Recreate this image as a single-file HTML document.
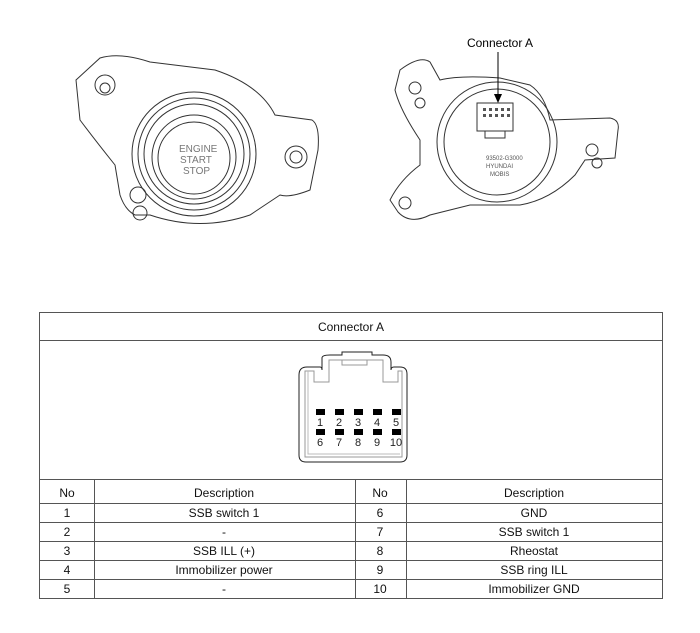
<!DOCTYPE html>
<html><head><style>
body{margin:0;background:#fff;width:700px;height:633px;overflow:hidden;font-family:"Liberation Sans",sans-serif;}
svg{position:absolute;left:0;top:0}
</style></head><body>
<svg width="700" height="633" viewBox="0 0 700 633" font-family="Liberation Sans, sans-serif">
<g fill="none" stroke="#333" stroke-width="1">
<!-- left switch -->
<path d="M76 80 L100 58 Q120 52 150 62 L215 70 Q260 85 275 115 L312 120 Q320 125 318 150 L310 190 Q290 198 280 195 L250 215 Q200 232 150 215 L135 215 Q125 210 120 195 L115 165 Q95 140 80 120 Z"/>
<circle cx="105" cy="85" r="10"/><circle cx="105" cy="88" r="5"/>
<circle cx="296" cy="157" r="11"/><circle cx="296" cy="157" r="6"/>
<circle cx="138" cy="195" r="8"/><circle cx="140" cy="213" r="7"/>
<circle cx="194" cy="154" r="62"/><circle cx="194" cy="154" r="56"/><circle cx="194" cy="154" r="50"/>
<circle cx="194" cy="157" r="42"/><circle cx="194" cy="158" r="36"/>
<!-- right switch -->
<path d="M400 70 Q420 55 430 62 L440 80 Q460 75 500 78 L530 85 Q545 95 550 120 L610 118 Q620 120 618 130 L615 158 L585 160 L575 175 Q550 200 520 205 L470 205 L430 215 Q410 225 398 212 L390 200 Q400 180 420 165 L420 140 Q400 110 395 90 Z"/>
<circle cx="415" cy="88" r="6"/><circle cx="420" cy="103" r="5"/>
<circle cx="592" cy="150" r="6"/><circle cx="597" cy="163" r="5"/><circle cx="405" cy="203" r="6"/>
<circle cx="497" cy="142" r="60"/><circle cx="497" cy="142" r="53"/>
<rect x="477" y="103" width="36" height="28"/><path d="M485 131 v7 h20 v-7"/>
</g>
<g fill="#555"><rect x="483" y="108" width="3" height="3"/><rect x="489" y="108" width="3" height="3"/><rect x="495" y="108" width="3" height="3"/><rect x="501" y="108" width="3" height="3"/><rect x="507" y="108" width="3" height="3"/>
<rect x="483" y="114" width="3" height="3"/><rect x="489" y="114" width="3" height="3"/><rect x="495" y="114" width="3" height="3"/><rect x="501" y="114" width="3" height="3"/><rect x="507" y="114" width="3" height="3"/></g>
<text x="179" y="152" font-size="10" fill="#777">ENGINE</text><text x="180" y="163" font-size="10" fill="#777">START</text><text x="183" y="174" font-size="10" fill="#777">STOP</text>
<g font-size="6" fill="#555"><text x="486" y="160">93502-G3000</text><text x="486" y="168">HYUNDAI</text><text x="490" y="176">MOBIS</text></g>
<text x="500" y="47" font-size="12" text-anchor="middle">Connector A</text>
<line x1="498" y1="52" x2="498" y2="96" stroke="#000"/><path d="M494 94 L498 103 L502 94 Z" fill="#000"/>

<!-- table -->
<g stroke="#555" fill="none" stroke-width="1">
<rect x="39.5" y="312.5" width="623" height="286"/>
<line x1="39" y1="340.5" x2="663" y2="340.5"/>
<line x1="39" y1="479.5" x2="663" y2="479.5"/>
<line x1="39" y1="503.5" x2="663" y2="503.5"/>
<line x1="39" y1="522.5" x2="663" y2="522.5"/>
<line x1="39" y1="541.5" x2="663" y2="541.5"/>
<line x1="39" y1="560.5" x2="663" y2="560.5"/>
<line x1="39" y1="579.5" x2="663" y2="579.5"/>
<line x1="94.5" y1="479" x2="94.5" y2="599"/>
<line x1="355.5" y1="479" x2="355.5" y2="599"/>
<line x1="406.5" y1="479" x2="406.5" y2="599"/>
<!-- connector -->
<path d="M299 375 Q299 367 307 367 L320 367 Q322 367 322 370 L322 358 Q322 355 330 355 L342 355 L342 352 L372 352 L372 355 L383 355 Q391 355 391 362 L391 370 Q391 367 394 367 L400 367 Q407 367 407 374 L407 455 Q407 462 400 462 L306 462 Q299 462 299 455 Z" stroke="#222"/>
<path d="M305 371 L314 371 L314 382 L329 382 L329 360 L383 360 L383 382 L398 382 L398 371 L402 371 L402 457 L305 457 Z" stroke="#999"/>
<path d="M308 371 L308 454 L400 454" stroke="#bbb"/>
<rect x="342" y="360" width="25" height="5" stroke="#999"/>
</g>
<g fill="#000">
<rect x="316" y="409" width="9" height="6"/><rect x="335" y="409" width="9" height="6"/><rect x="354" y="409" width="9" height="6"/><rect x="373" y="409" width="9" height="6"/><rect x="392" y="409" width="9" height="6"/>
<rect x="316" y="429" width="9" height="6"/><rect x="335" y="429" width="9" height="6"/><rect x="354" y="429" width="9" height="6"/><rect x="373" y="429" width="9" height="6"/><rect x="392" y="429" width="9" height="6"/>
</g>
<g font-size="11" text-anchor="middle" fill="#222">
<text x="320" y="426">1</text><text x="339" y="426">2</text><text x="358" y="426">3</text><text x="377" y="426">4</text><text x="396" y="426">5</text>
<text x="320" y="446">6</text><text x="339" y="446">7</text><text x="358" y="446">8</text><text x="377" y="446">9</text><text x="396" y="446">10</text>
</g>
<g font-size="12" text-anchor="middle" fill="#111">
<text x="351" y="331">Connector A</text>
<text x="67" y="497">No</text><text x="224" y="497">Description</text><text x="380" y="497">No</text><text x="534" y="497">Description</text>
<text x="67" y="517">1</text><text x="224" y="517">SSB switch 1</text><text x="380" y="517">6</text><text x="534" y="517">GND</text>
<text x="67" y="536">2</text><text x="224" y="536">-</text><text x="380" y="536">7</text><text x="534" y="536">SSB switch 1</text>
<text x="67" y="555">3</text><text x="224" y="555">SSB ILL (+)</text><text x="380" y="555">8</text><text x="534" y="555">Rheostat</text>
<text x="67" y="574">4</text><text x="224" y="574">Immobilizer power</text><text x="380" y="574">9</text><text x="534" y="574">SSB ring ILL</text>
<text x="67" y="593">5</text><text x="224" y="593">-</text><text x="380" y="593">10</text><text x="534" y="593">Immobilizer GND</text>
</g>
</svg>
</body></html>
